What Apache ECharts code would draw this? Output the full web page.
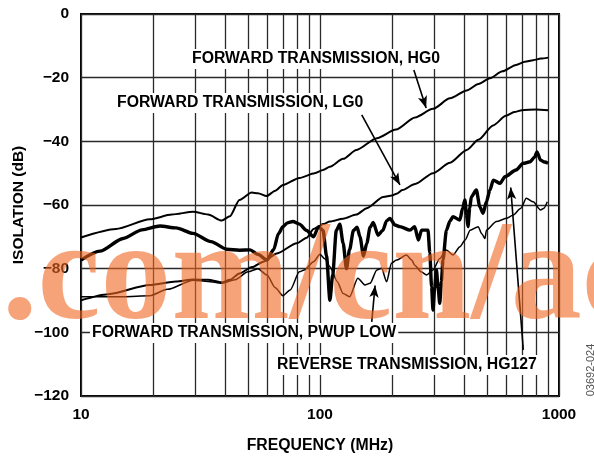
<!DOCTYPE html>
<html>
<head>
<meta charset="utf-8">
<script src="https://cdn.jsdelivr.net/npm/echarts@6/dist/echarts.min.js"></script>
<style>
  html, body { margin: 0; padding: 0; background: #fff; }
  #chart { width: 594px; height: 458px; }
</style>
</head>
<body>
<div id="chart"></div>
<script>
// curves: frequency (MHz) and isolation (dB)
var hg0Freq = [10, 14, 19.4, 24, 29.5, 34, 38.8, 42, 46, 51.8, 55, 59.8, 65, 70, 82, 95, 103, 110, 125, 142, 173, 208, 250, 297, 350, 411, 460, 514, 580, 661, 720, 780, 840, 900]
var hg0Db   = [-70.2, -67.5, -64.5, -63, -62.1, -63, -64.9, -63.5, -58.4, -56.1, -56.3, -57.2, -55.5, -53.7, -51.5, -50, -49, -48, -45.5, -42.7, -39, -36.3, -32.5, -29.8, -26.5, -24, -22, -20.2, -18, -16, -15, -14.5, -14, -13.7]

var lg0Freq = [10, 13, 19.4, 25, 29.5, 34, 38.8, 42, 46, 52, 58, 66, 80, 88, 94, 98.6, 103, 110, 125, 142, 157, 184, 200, 209, 221, 250, 297, 350, 411, 460, 530, 600, 650, 700, 800, 900]
var lg0Db   = [-89.9, -88, -85.1, -84, -83.4, -83.5, -84.3, -83.5, -81.5, -79.5, -77.8, -75.2, -72, -70.3, -67.5, -66.8, -66, -65.2, -64.3, -63, -61, -57.5, -57, -56.5, -55.3, -53.4, -50, -46.7, -42.7, -39.5, -35, -32, -30.8, -30.2, -30, -30.2]

var hg127Freq = [10, 12, 15, 18, 21.4, 25, 29.4, 35, 40.7, 46, 51, 55, 60, 64, 67, 70, 73, 77, 82, 88, 94, 98.6, 103, 106.5, 110, 113, 117, 121, 125, 129, 133, 138, 143, 147, 152, 157, 162, 167, 175, 183, 190, 196, 206, 216, 238, 249, 258, 266, 283, 288, 293, 297, 302, 307, 312, 317, 322, 327, 338, 350, 360, 385, 395, 404, 410, 416, 423, 430, 451, 466, 481, 497, 514, 531, 567, 594, 661, 709, 757, 790, 809, 837, 870, 900]
var hg127Db   = [-77.3, -74.5, -70.5, -67.8, -66.6, -67.2, -68.9, -71.5, -73.9, -74.2, -74.1, -75.5, -77.3, -74, -69, -66.8, -65.6, -65.2, -66, -68, -70, -66.8, -68, -76, -89.9, -82, -68, -66, -72, -80, -74, -68, -67, -70, -76, -72, -67, -65.5, -69.5, -68, -65, -64.2, -66.3, -66.8, -67.9, -66.8, -71, -67.9, -67.9, -75, -85.7, -93, -86, -80.4, -86, -90.9, -84, -77.3, -67.9, -65, -63.7, -64.7, -61, -58.4, -63, -66.8, -61, -57.4, -55.3, -60.5, -62.6, -59, -55.3, -52.2, -53.2, -51.1, -49, -46.9, -46.4, -45, -43.3, -45.9, -46.5, -46.9]

var pwupFreq = [10, 15, 19.4, 23, 29.5, 34, 38.8, 44, 50, 55, 60, 65, 70, 75, 82, 86, 94, 100, 105, 110, 118, 125, 133, 144, 154, 162, 173, 181, 190, 199, 209, 230, 242, 249, 265, 279, 297, 317, 338, 360, 385, 405, 425, 459, 475, 490, 497, 547, 602, 641, 693, 730, 780, 837, 865, 893]
var pwupDb   = [-88.8, -88.8, -88.5, -86.5, -83.6, -84, -84.6, -83.5, -81, -80, -82, -86, -88.5, -86.7, -81, -80.4, -77.8, -75.5, -77, -79.4, -84, -87.8, -88.8, -83, -85.1, -84.6, -80.4, -79.9, -84.1, -78.3, -77.3, -75.7, -77.3, -78.9, -81, -82, -80.4, -76.8, -74.1, -75.7, -73.1, -71, -67.9, -66.8, -69, -70.5, -67.9, -65.2, -64.2, -63.2, -61, -57.9, -59, -61.6, -61, -59]

// log grid between the decades
var minorGridFreq = [20, 30, 40, 50, 60, 70, 80, 90, 200, 300, 400, 500, 600, 700, 800, 900]

// arrows: [from, to] in (MHz, dB)
var arrows = [
    [[247, -17.6], [278, -29.5]],
    [[149.5, -31.7], [216, -53.7]],
    [[164.6, -96.7], [170, -85.3]],
    [[709, -105.5], [628, -54.5]]
]

function zip(f, d) {
    var out = []
    for (var i = 0; i < f.length; i++) out.push([f[i], d[i]])
    return out
}

var chart = echarts.init(document.getElementById('chart'), null, {renderer: 'canvas'})
var gridColor = '#2a2a2a'
var labelFont = {fontFamily: 'Liberation Sans', fontWeight: 'bold', fontSize: 15.5, color: '#000'}

function curve(name, data, width) {
    return {
        name: name,
        type: 'line',
        data: data,
        showSymbol: false,
        smooth: 0.25,
        smoothMonotone: 'x',
        lineStyle: {color: '#000', width: width},
        z: 5
    }
}

function textItem(text, x, y, extra) {
    var s = {
        text: text,
        x: x,
        y: y,
        fill: '#000',
        font: 'bold 15.8px "Liberation Sans"',
        textAlign: 'left',
        textVerticalAlign: 'middle'
    }
    for (var k in extra) s[k] = extra[k]
    return {type: 'text', style: s, z: 20}
}

chart.setOption({
    animation: false,
    backgroundColor: '#fff',
    grid: {left: 81, right: 35, top: 14, bottom: 62, show: true, borderColor: '#000', borderWidth: 2},
    xAxis: {
        type: 'log',
        logBase: 10,
        min: 10,
        max: 1000,
        axisLine: {show: false},
        axisTick: {show: false},
        splitLine: {show: true, lineStyle: {color: gridColor, width: 1.3}},
        axisLabel: Object.assign({margin: 11, formatter: function (v) { return String(v) }}, labelFont)
    },
    yAxis: {
        type: 'value',
        min: -120,
        max: 0,
        interval: 20,
        axisLine: {show: false},
        axisTick: {show: false},
        splitLine: {show: true, lineStyle: {color: gridColor, width: 1.3}},
        axisLabel: Object.assign({margin: 12, formatter: function (v) { return v < 0 ? '\u2212' + (-v) : String(v) }}, labelFont)
    },
    series: [
        {
            type: 'line',
            data: [],
            silent: true,
            markLine: {
                silent: true,
                symbol: ['none', 'none'],
                label: {show: false},
                lineStyle: {color: gridColor, width: 1.3, type: 'solid'},
                data: minorGridFreq.map(function (f) { return {xAxis: f} })
            },
            z: 1
        },
        curve('HG0', zip(hg0Freq, hg0Db), 2),
        curve('LG0', zip(lg0Freq, lg0Db), 2),
        curve('HG127', zip(hg127Freq, hg127Db), 3.4),
        curve('PWUP LOW', zip(pwupFreq, pwupDb), 1.5),
        {
            type: 'line',
            data: [],
            silent: true,
            markLine: {
                silent: true,
                symbol: ['none', 'arrow'],
                symbolSize: [7, 12],
                label: {show: false},
                lineStyle: {color: '#000', width: 1.6, type: 'solid'},
                data: arrows.map(function (a) { return [{coord: a[0]}, {coord: a[1]}] })
            },
            z: 6
        }
    ],
    graphic: [
        textItem('FORWARD TRANSMISSION, HG0', 190, 59, {backgroundColor: '#fff', padding: [2, 2]}),
        textItem('FORWARD TRANSMISSION, LG0', 115, 103, {backgroundColor: '#fff', padding: [2, 2]}),
        textItem('FORWARD TRANSMISSION, PWUP LOW', 90, 333, {backgroundColor: '#fff', padding: [2, 2]}),
        textItem('REVERSE TRANSMISSION, HG127', 275, 365, {backgroundColor: '#fff', padding: [2, 2]}),
        textItem('FREQUENCY (MHz)', 320, 446, {textAlign: 'center'}),
        {
            type: 'text',
            x: 19, y: 205,
            rotation: Math.PI / 2,
            style: {text: 'ISOLATION (dB)', fill: '#000', font: 'bold 15.5px "Liberation Sans"', textAlign: 'center', textVerticalAlign: 'middle'},
            z: 20
        },
        {
            type: 'text',
            x: 591, y: 370,
            rotation: Math.PI / 2,
            style: {text: '03692-024', fill: '#555', font: '11px "Liberation Sans"', textAlign: 'center', textVerticalAlign: 'middle'},
            z: 20
        },
        // watermark over the plot
        {
            type: 'text',
            x: 2, y: 352,
            style: {text: '.com/cn/ac', fill: 'rgba(242,101,34,0.6)', font: 'bold 142px "Liberation Serif"', textAlign: 'left', textVerticalAlign: 'bottom'},
            z: 30
        }
    ]
})
</script>
</body>
</html>
